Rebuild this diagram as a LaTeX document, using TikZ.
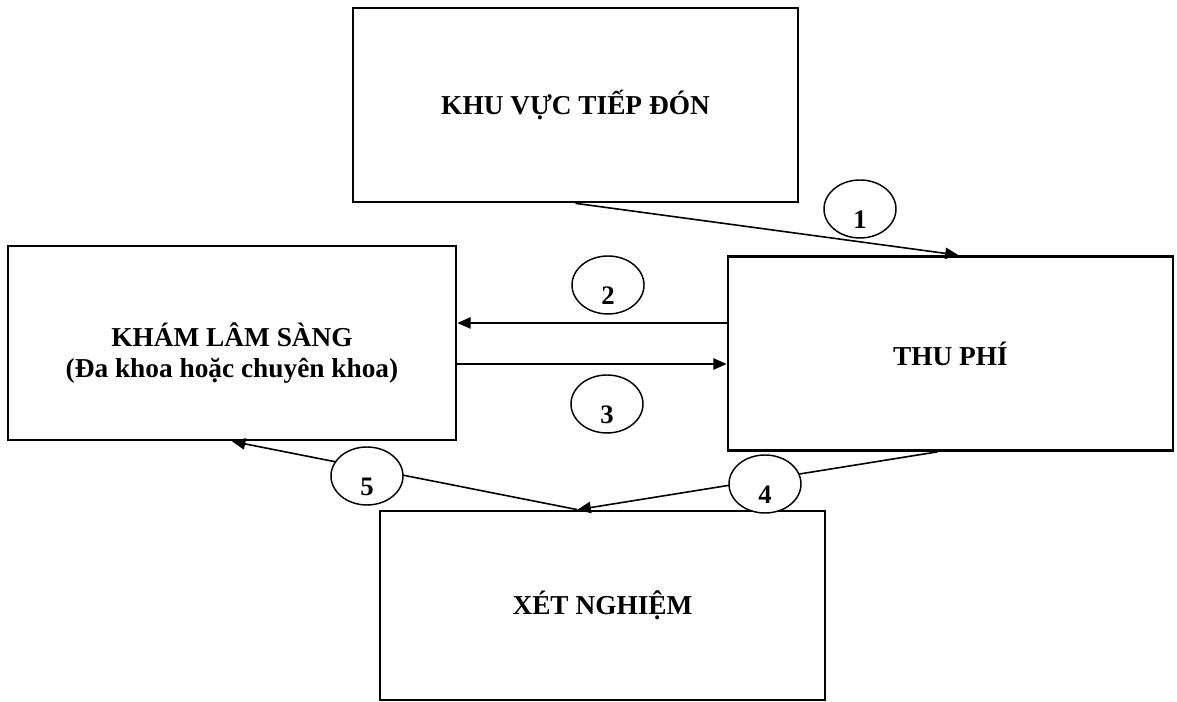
\documentclass[tikz,border=0pt]{standalone}
\usepackage{fontspec}
\setmainfont{Liberation Serif}
\usetikzlibrary{arrows.meta, shapes.geometric}

\begin{document}
\begin{tikzpicture}[x=0.75pt, y=0.75pt, font=\bfseries\fontsize{20.5}{21}\selectfont,
  box/.style={draw, line width=2pt, minimum width=333.75pt, minimum height=145.5pt, inner sep=0pt, align=center},
  tag/.style={draw, ellipse, line width=1.1pt, fill=white, minimum width=54pt, minimum height=43.5pt, inner sep=0pt},
  flow/.style={line width=1.2pt, -{Triangle[length=10pt, width=8.5pt]}}]

  \useasboundingbox (0, 0) rectangle (1177, 702);

  \node [box] (tiep) at (575.5, 597) {KHU VỰC TIẾP ĐÓN};
  \node [box, minimum width=336pt] (kham) at (232, 359) {};
  \node (khamtext) at ([shift={(0, -10)}]kham.center) [align=center, font=\bfseries\fontsize{20.5}{23.5}\selectfont] {KHÁM LÂM SÀNG\\(Đa khoa hoặc chuyên khoa)};
  \node [box] (thu) at (950.5, 348.5) {THU PHÍ};
  \node [box, minimum height=141.75pt] (xet) at (602.5, 96.5) {XÉT NGHIỆM};

  \coordinate (k2) at ([shift={(0, 20)}]kham.east);
  \coordinate (k3) at ([shift={(0, -21)}]kham.east);
  \coordinate (x0) at ([shift={(-25, 0)}]xet.north);

  \draw [flow] (tiep.south) -- ([shift={(8, 0)}]thu.north);
  \draw [flow] (k2 -| thu.west) -- (k2);
  \draw [flow] (k3) -- (k3 -| thu.west);
  \draw [flow] ([shift={(-13, 0)}]thu.south) -- (x0);
  \draw [flow] (x0) -- (kham.south);

  \foreach \n/\x/\y in {1/860/493, 2/608/417, 3/607/298, 4/765/218, 5/367/226} {
      \node (c\n) at (\x, \y) [tag] {};
      \node (n\n) at ([shift={(0, -11)}]c\n.center) [font=\bfseries\fontsize{20}{22}\selectfont] {\n};
  }
\end{tikzpicture}
\end{document}
